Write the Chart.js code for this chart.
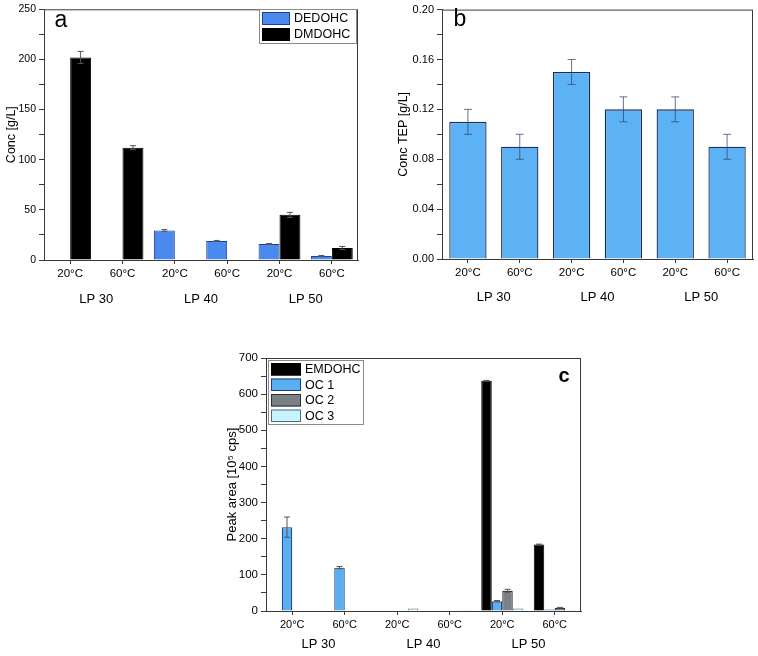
<!DOCTYPE html>
<html>
<head>
<meta charset="utf-8">
<script src="https://cdn.jsdelivr.net/npm/chart.js@4.4.1/dist/chart.umd.min.js"></script>
<style>
  body { margin: 0; background: #fff; width: 758px; height: 656px; position: relative; overflow: hidden; }
  .panel { position: absolute; }
</style>
</head>
<body>
<div class="panel" style="left:0;top:0;width:380px;height:312px"><canvas id="chart-a"></canvas></div>
<div class="panel" style="left:380px;top:0;width:378px;height:312px"><canvas id="chart-b"></canvas></div>
<div class="panel" style="left:200px;top:320px;width:385px;height:336px"><canvas id="chart-c"></canvas></div>
<script>
// tick labels
const tempLabels = ['20°C', '60°C', '20°C', '60°C', '20°C', '60°C'];
const groupLabels = ['LP 30', 'LP 40', 'LP 50'];

// panel a
const dedohc = [0, 0, 29.5, 19, 16, 4];
const dedohcErr = [0, 0, 1, 0.5, 0.5, 0.5];
const dmdohc = [202, 112, 0, 0, 45, 12];
const dmdohcErr = [6, 2, 0, 0, 2.5, 1.5];

// panel b
const tep = [0.11, 0.09, 0.15, 0.12, 0.12, 0.09];
const tepErr = [0.01, 0.01, 0.01, 0.01, 0.01, 0.01];

// panel c
const emdohc = [0, 0, 0, 0, 637, 184];
const emdohcErr = [0, 0, 0, 0, 1, 1];
const oc1 = [232, 120, 0, 0, 27, 4];
const oc1Err = [28, 3, 0, 0, 2, 0];
const oc2 = [0, 0, 0, 0, 56, 9];
const oc2Err = [0, 0, 0, 0, 4, 1];
const oc3 = [0, 0, 7, 2, 7, 1];

const FONT = "'Liberation Sans', Arial, sans-serif";
const AXIS = '#3a3a3a';

// whiskers drawn on top of the bars
const errorBars = {
  id: 'errorBars',
  afterDatasetsDraw(chart, args, opts) {
    const ctx = chart.ctx;
    const y = chart.scales.y;
    chart.data.datasets.forEach((ds, i) => {
      if (!ds.errors) return;
      const meta = chart.getDatasetMeta(i);
      meta.data.forEach((bar, j) => {
        const e = ds.errors[j];
        if (!e) return;
        const v = ds.data[j];
        const top = y.getPixelForValue(v + e);
        const bot = y.getPixelForValue(v - e);
        const half = opts.cap / 2;
        ctx.save();
        ctx.strokeStyle = opts.color;
        ctx.lineWidth = 1;
        ctx.beginPath();
        ctx.moveTo(bar.x, top); ctx.lineTo(bar.x, bot);
        ctx.moveTo(bar.x - half, top); ctx.lineTo(bar.x + half, top);
        ctx.moveTo(bar.x - half, bot); ctx.lineTo(bar.x + half, bot);
        ctx.stroke();
        ctx.restore();
      });
    });
  }
};

// closed frame round the plot, panel letter and boxed legend
const decor = {
  id: 'decor',
  afterDraw(chart, args, opts) {
    const ctx = chart.ctx;
    const a = chart.chartArea;
    ctx.save();
    ctx.strokeStyle = AXIS;
    ctx.lineWidth = 1;
    ctx.strokeRect(a.left + 0.5, a.top + 0.5, a.right - a.left - 1, a.bottom - a.top);

    ctx.fillStyle = '#000';
    ctx.font = (opts.letterBold ? 'bold ' : '') + opts.letterSize + 'px ' + FONT;
    ctx.textAlign = 'center';
    ctx.textBaseline = 'middle';
    ctx.fillText(opts.letter, opts.letterX, opts.letterY);

    const lg = opts.legend;
    if (lg) {
      const sets = chart.data.datasets;
      ctx.fillStyle = '#fff';
      ctx.fillRect(lg.x, lg.y, lg.w, lg.rowH * sets.length + 2);
      ctx.strokeStyle = '#8a8a8a';
      ctx.strokeRect(lg.x + 0.5, lg.y + 0.5, lg.w, lg.rowH * sets.length + 2);
      ctx.font = lg.fontSize + 'px ' + FONT;
      ctx.textAlign = 'left';
      sets.forEach((ds, i) => {
        const ry = lg.y + 2 + i * lg.rowH;
        ctx.fillStyle = ds.backgroundColor;
        ctx.fillRect(lg.x + 3, ry + 1, lg.swatchW, lg.rowH - 3);
        ctx.strokeStyle = ds.borderColor;
        ctx.strokeRect(lg.x + 3.5, ry + 1.5, lg.swatchW - 1, lg.rowH - 4);
        ctx.fillStyle = '#000';
        ctx.fillText(ds.label, lg.x + lg.swatchW + 7, ry + lg.rowH / 2);
      });
    }
    ctx.restore();
  }
};

function buildOptions(cfg) {
  return {
    responsive: true,
    maintainAspectRatio: false,
    animation: false,
    layout: { padding: cfg.padding },
    plugins: {
      legend: { display: false },
      tooltip: { enabled: false },
      errorBars: { cap: cfg.cap, color: cfg.errColor },
      decor: cfg.decor
    },
    scales: {
      x: {
        type: 'category',
        offset: true,
        weight: 0,
        grid: { display: true, drawOnChartArea: false, offset: false, tickLength: 4, color: AXIS },
        border: { display: true, color: AXIS },
        ticks: { color: '#000', font: { family: FONT, size: cfg.xFont }, padding: cfg.tickPad, maxRotation: 0, autoSkip: false },
        afterFit(s) { s.height = cfg.xH; }
      },
      x2: {
        type: 'category',
        labels: groupLabels,
        position: 'bottom',
        offset: true,
        weight: 1,
        grid: { display: false, drawTicks: false },
        border: { display: false },
        ticks: { color: '#000', font: { family: FONT, size: 13 }, padding: cfg.groupPad, maxRotation: 0 },
        afterFit(s) { s.height = cfg.x2H; }
      },
      y: {
        min: cfg.yMin,
        max: cfg.yMax,
        grid: { display: true, drawOnChartArea: false, tickLength: 5, color: AXIS },
        border: { display: true, color: AXIS },
        ticks: {
          stepSize: cfg.minorStep,
          autoSkip: false,
          color: '#000',
          padding: 3,
          font: { family: FONT, size: cfg.yFont },
          callback: cfg.tickFmt
        },
        title: { display: true, text: cfg.yTitle, color: '#000', font: { family: FONT, size: cfg.titleFont } },
        afterFit(s) { s.width = cfg.yW; }
      }
    }
  };
}

new Chart(document.getElementById('chart-a'), {
  type: 'bar',
  data: {
    labels: tempLabels,
    datasets: [
      { label: 'DEDOHC', data: dedohc, errors: dedohcErr, backgroundColor: '#4a89ee', borderColor: '#1d3f8f', borderWidth: 1, categoryPercentage: 0.8, barPercentage: 1 },
      { label: 'DMDOHC', data: dmdohc, errors: dmdohcErr, backgroundColor: '#000', borderColor: '#000', borderWidth: 1, categoryPercentage: 0.8, barPercentage: 1 }
    ]
  },
  options: buildOptions({
    padding: { left: 0, top: 7, right: 22, bottom: 0 },
    yMin: 0, yMax: 250, minorStep: 25, yW: 44, xH: 22, x2H: 30, tickPad: 3, groupPad: 10,
    xFont: 11.5, yFont: 10.5, titleFont: 12.5,
    tickFmt: v => (v % 50 === 0 ? String(v) : ''),
    yTitle: 'Conc [g/L]', cap: 6, errColor: '#555',
    decor: {
      letter: 'a', letterX: 61, letterY: 21, letterSize: 23, letterBold: false,
      legend: { x: 259, y: 9, w: 97, rowH: 16, swatchW: 28, fontSize: 12.5 }
    }
  }),
  plugins: [errorBars, decor]
});

new Chart(document.getElementById('chart-b'), {
  type: 'bar',
  data: {
    labels: tempLabels,
    datasets: [
      { label: 'TEP', data: tep, errors: tepErr, backgroundColor: '#5cb2f4', borderColor: '#1b2d55', borderWidth: 1.3, categoryPercentage: 1, barPercentage: 0.72 }
    ]
  },
  options: buildOptions({
    padding: { left: 12, top: 7, right: 5, bottom: 0 },
    yMin: 0, yMax: 0.2, minorStep: 0.02, yW: 50, xH: 22, x2H: 31, tickPad: 3, groupPad: 9,
    xFont: 11.5, yFont: 11, titleFont: 12.5,
    tickFmt: v => (Math.round(v / 0.02) % 2 === 0 ? v.toFixed(2) : ''),
    yTitle: 'Conc TEP [g/L]', cap: 8, errColor: 'rgba(50,70,110,0.75)',
    decor: { letter: 'b', letterX: 80, letterY: 20, letterSize: 23, letterBold: false }
  }),
  plugins: [errorBars, decor]
});

new Chart(document.getElementById('chart-c'), {
  type: 'bar',
  data: {
    labels: tempLabels,
    datasets: [
      { label: 'EMDOHC', data: emdohc, errors: emdohcErr, backgroundColor: '#000', borderColor: '#000', borderWidth: 1, categoryPercentage: 0.8, barPercentage: 1 },
      { label: 'OC 1', data: oc1, errors: oc1Err, backgroundColor: '#5aaff0', borderColor: '#1c3f86', borderWidth: 1.2, categoryPercentage: 0.8, barPercentage: 1 },
      { label: 'OC 2', data: oc2, errors: oc2Err, backgroundColor: '#7b8086', borderColor: '#2c2f33', borderWidth: 1.2, categoryPercentage: 0.8, barPercentage: 1 },
      { label: 'OC 3', data: oc3, backgroundColor: '#c9f3fb', borderColor: '#4d6f86', borderWidth: 1, categoryPercentage: 0.8, barPercentage: 1 }
    ]
  },
  options: buildOptions({
    padding: { left: 21, top: 38, right: 4, bottom: 0 },
    yMin: 0, yMax: 700, minorStep: 50, yW: 45, xH: 22, x2H: 23, tickPad: 3, groupPad: 4,
    xFont: 11, yFont: 11.5, titleFont: 13,
    tickFmt: v => (v % 100 === 0 ? String(v) : ''),
    yTitle: 'Peak area [10⁵ cps]', cap: 6, errColor: '#555',
    decor: {
      letter: 'c', letterX: 364, letterY: 56, letterSize: 20, letterBold: true,
      legend: { x: 68, y: 40, w: 95, rowH: 15.5, swatchW: 30, fontSize: 12.5 }
    }
  }),
  plugins: [errorBars, decor]
});
</script>
</body>
</html>
